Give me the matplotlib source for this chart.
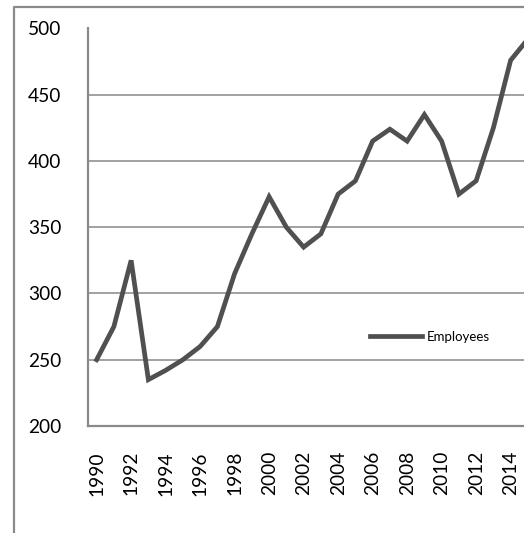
import matplotlib
matplotlib.use("Agg")
import matplotlib.pyplot as plt
from matplotlib.lines import Line2D

years = list(range(1990, 2016))
employees = [250, 275, 325, 235, 242, 250, 260, 275, 315, 345, 373, 350, 335, 345, 375,
             385, 415, 424, 415, 435, 415, 375, 385, 425, 476, 492]
tick_years = list(range(1990, 2015, 2))
y_ticks = [200, 250, 300, 350, 400, 450, 500]

plt.rcParams['font.family'] = ['Lato', 'DejaVu Sans']

W, H = 524, 533
fig = plt.figure(figsize=(W / 100, H / 100), dpi=100)

# plot area in pixels
left_px, top_px, bottom_px = 88, 28.5, 426
cat_w = 17.25
ax = fig.add_axes([left_px / W, 1 - bottom_px / H, (W - left_px) / W, (bottom_px - top_px) / H])

x = list(range(len(years)))
ax.plot(x, employees, color='#505050', lw=3.4, solid_joinstyle='miter', label='Employees', zorder=3)

ax.set_xlim(-0.5, (W - left_px) / cat_w - 0.5)
ax.set_ylim(200, 500)
ax.set_yticks(y_ticks)
ax.set_yticklabels([str(v) for v in y_ticks], fontsize=13.8)
ax.set_xticks([years.index(t) for t in tick_years])
ax.set_xticklabels([str(t) for t in tick_years], rotation=90, fontsize=13.8)
ax.tick_params(axis='both', length=0)
ax.tick_params(axis='y', pad=19)
ax.tick_params(axis='x', pad=18)
ax.grid(axis='y', color='#9a9a9a', lw=1.3, zorder=1)
for s in ['right', 'top']:
    ax.spines[s].set_visible(False)
for s in ['left', 'bottom']:
    ax.spines[s].set_color('#8a8a8a')
    ax.spines[s].set_linewidth(1.6)

leg = ax.legend(loc='center', bbox_to_anchor=(430 / W, 1 - 337 / H), bbox_transform=fig.transFigure,
                frameon=False, fontsize=9.5, handlelength=3.95, handletextpad=0.38)

# outer chart border (clipped by the image)
bx, by = 13.5 / W, 1 - 7 / H
fig.add_artist(Line2D([bx, bx, 1.01], [-0.01, by, by], transform=fig.transFigure,
                      color='#8a8a8a', lw=1.6))

fig.savefig('out.png', dpi=100)
